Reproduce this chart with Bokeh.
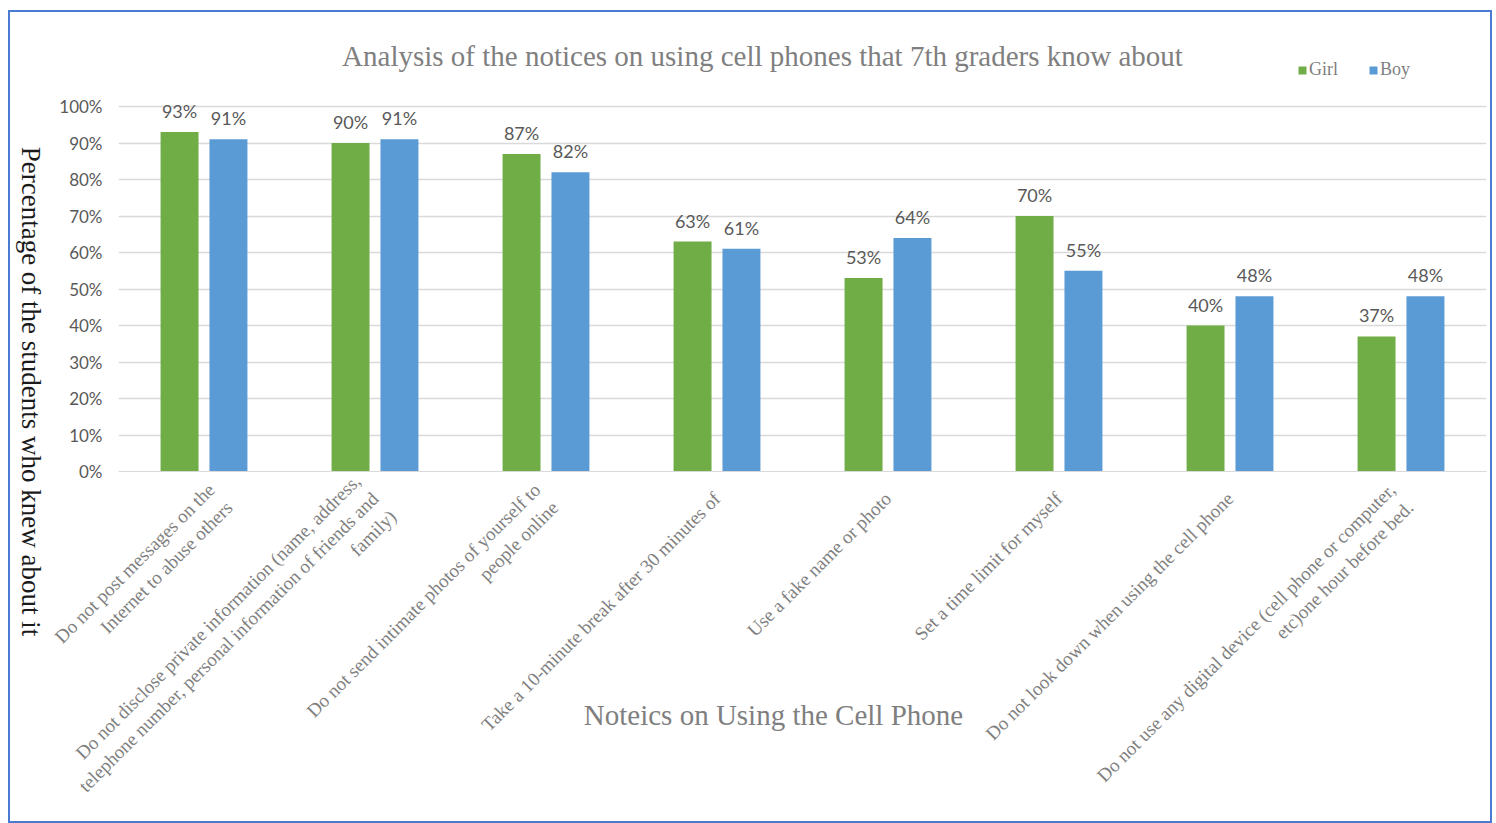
from math import pi
from bokeh.plotting import figure
from bokeh.models import (FactorRange, ColumnDataSource, LabelSet, Label, Legend,
                          LegendItem, NumeralTickFormatter, FixedTicker, Range1d, Row)
from bokeh.core.properties import value
from bokeh.transform import dodge
from bokeh.embed import file_html
from bokeh.resources import INLINE

categories = [
    "Do not post messages on the\nInternet to abuse others",
    "Do not disclose private information (name, address,\ntelephone number, personal information of friends and\nfamily)",
    "Do not send intimate photos of yourself to\npeople online",
    "Take a 10-minute break after 30 minutes of",
    "Use a fake name or photo",
    "Set a time limit for myself",
    "Do not look down when using the cell phone",
    "Do not use any digital device (cell phone or computer,\netc)one hour before bed.",
]
girl = [93, 90, 87, 63, 53, 70, 40, 37]
boy = [91, 91, 82, 61, 64, 55, 48, 48]
series_names = ["Girl", "Boy"]
y_ticks = [0.0, 0.1, 0.2, 0.3, 0.4, 0.5, 0.6, 0.7, 0.8, 0.9, 1.0]

title_text = "Analysis of the notices on using cell phones that 7th graders know about"
x_title = "Noteics on Using the Cell Phone"
y_title = "Percentage of the students who knew about it"

GREEN = "#70AD47"
BLUE = "#5B9BD5"
H = 809
SIDE_W = 40

src = ColumnDataSource(dict(
    cat=categories,
    girl=[v / 100 for v in girl],
    boy=[v / 100 for v in boy],
    girl_lbl=[f"{v}%" for v in girl],
    boy_lbl=[f"{v}%" for v in boy],
))

# ---- narrow strip holding the vertical y-axis title (reads top to bottom)
side = figure(width=SIDE_W, height=H, x_range=Range1d(0, SIDE_W), y_range=Range1d(H, 0),
              output_backend="svg", toolbar_location=None,
              x_axis_location=None, y_axis_location=None,
              min_border=0, min_border_left=0, min_border_right=0,
              min_border_top=0, min_border_bottom=0)
if "frame_align" in side.properties():
    side.frame_align = False
side.outline_line_color = None
side.grid.grid_line_color = None
side.add_layout(Label(x=20, y=379, text=y_title, angle=-pi / 2,
                      text_align="center", text_baseline="middle",
                      text_font="Liberation Serif", text_font_size="27px",
                      text_color="#1a1a1a"))

# ---- main chart
p = figure(x_range=FactorRange(factors=categories, range_padding=0),
           y_range=Range1d(0, 1.2),
           width=1480 - SIDE_W, height=H,
           output_backend="svg", toolbar_location=None,
           min_border_left=68, min_border_right=4,
           min_border_top=21, min_border_bottom=350)
if "frame_align" in p.properties():
    p.frame_align = False
p.outline_line_color = None
p.background_fill_color = "white"
p.border_fill_color = "white"

rg = p.vbar(x=dodge("cat", -0.143, range=p.x_range), top="girl", width=0.222,
            source=src, fill_color=GREEN, line_color=None)
rb = p.vbar(x=dodge("cat", 0.143, range=p.x_range), top="boy", width=0.222,
            source=src, fill_color=BLUE, line_color=None)

for col, lbl, off in (("girl", "girl_lbl", -0.143), ("boy", "boy_lbl", 0.143)):
    p.add_layout(LabelSet(x=dodge("cat", off, range=p.x_range), y=col, text=lbl,
                          source=src, text_align="center", text_baseline="bottom",
                          y_offset=10, text_font=value("Lato"), text_font_size="18px",
                          text_color="#595959"))

# y axis
yax = p.yaxis[0]
yax.ticker = FixedTicker(ticks=y_ticks)
yax.formatter = NumeralTickFormatter(format="0%")
yax.axis_line_color = None
yax.major_tick_line_color = None
yax.minor_tick_line_color = None
yax.major_label_text_font = "Lato"
yax.major_label_text_font_size = "17px"
yax.major_label_text_color = "#595959"
yax.major_label_standoff = 10

# x axis
xax = p.xaxis[0]
xax.axis_line_color = "#d9d9d9"
xax.major_tick_line_color = None
xax.minor_tick_line_color = None
xax.major_label_orientation = pi / 4
xax.major_label_text_font = "Liberation Serif"
xax.major_label_text_font_size = "19px"
xax.major_label_text_color = "#808080"
xax.major_label_standoff = 18
xax.axis_label = x_title + "\u00a0" * 8
xax.axis_label_text_font = "Liberation Serif"
xax.axis_label_text_font_size = "29px"
xax.axis_label_text_font_style = "normal"
xax.axis_label_text_color = "#7f7f7f"
xax.axis_label_standoff = -143

p.xgrid.grid_line_color = None
p.ygrid.grid_line_color = "#d9d9d9"
p.ygrid.grid_line_width = 1.5

# chart title inside the (tall) frame, above the 100% line
p.add_layout(Label(x=644, y=416, x_units="screen", y_units="screen", text=title_text,
                   text_align="center", text_baseline="middle",
                   text_font="Liberation Serif", text_font_size="29px",
                   text_color="#7f7f7f"))

legend = Legend(items=[LegendItem(label=series_names[0], renderers=[rg]),
                       LegendItem(label=series_names[1], renderers=[rb])],
                location=(1179, 391), orientation="horizontal",
                padding=0, margin=0, spacing=30,
                glyph_width=10, glyph_height=10, label_standoff=2,
                label_text_font="Liberation Serif", label_text_font_size="18px",
                label_text_color="#7f7f7f",
                border_line_color=None, background_fill_alpha=0)
p.add_layout(legend, "center")

layout = Row(children=[side, p], spacing=0)
layout.margin = (10, 0, 0, 8)
layout.styles = {"border": "2px solid #4a7bd0", "background-color": "white"}

open("out.html", "w").write(file_html(layout, INLINE))
